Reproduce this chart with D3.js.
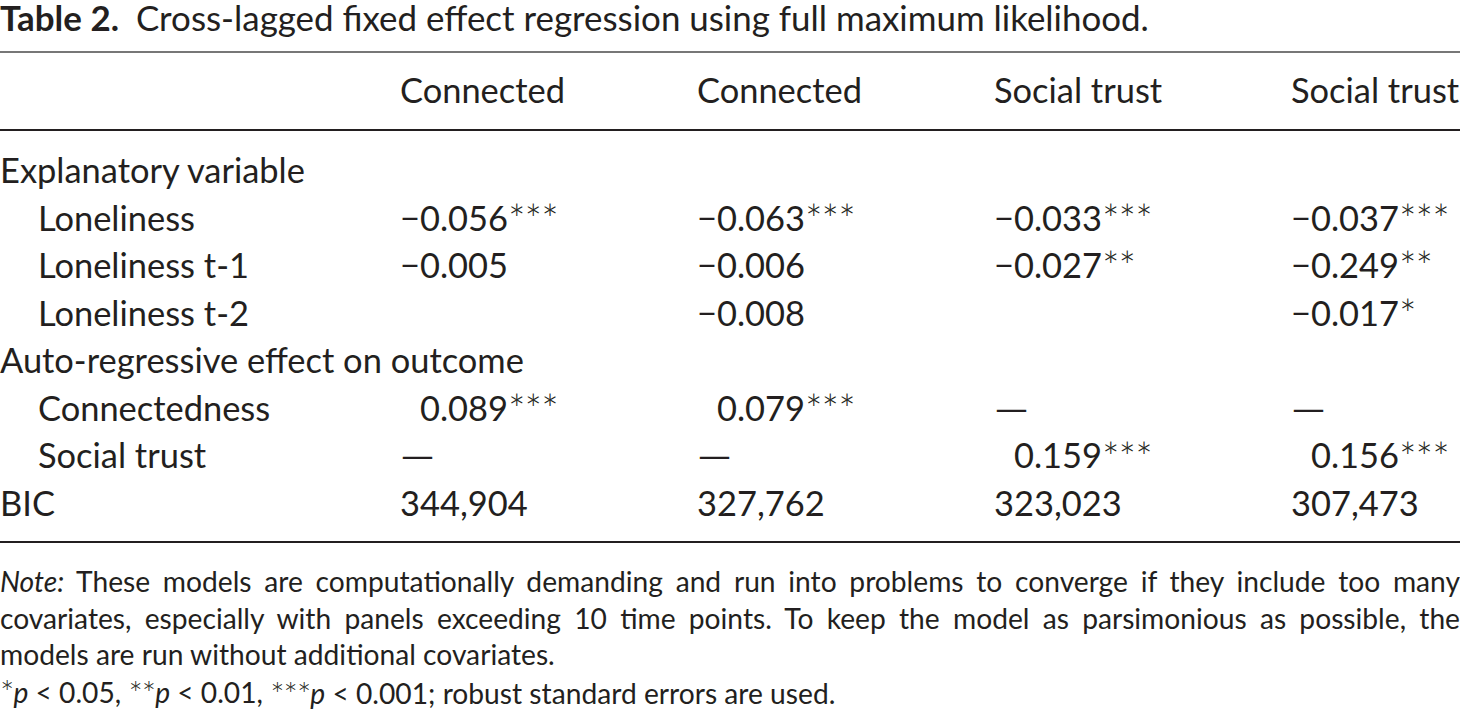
<!DOCTYPE html>
<html>
<head>
<meta charset="utf-8">
<script src="https://cdn.jsdelivr.net/npm/d3@7"></script>
<style>
  html, body { margin: 0; padding: 0; background: #fff; }
  svg { display: block; font-family: Lato, "Open Sans", sans-serif; }
</style>
</head>
<body>
<svg id="chart"></svg>
<script>
// ---- table content ----
const tableNumber = "Table 2.";
const tableTitle = "Cross-lagged fixed effect regression using full maximum likelihood.";
const models = ["Connected", "Connected", "Social trust", "Social trust"];

// sections of the table, each with its own rows
const explanatoryRows = ["Loneliness", "Loneliness t-1", "Loneliness t-2"];
const autoRegRows = ["Connectedness", "Social trust"];

// coefficients per model (null = not in model, "—" = not applicable)
const loneliness      = [-0.056, -0.063, -0.033, -0.037];
const lonelinessStars = [3, 3, 3, 3];
const lonelinessT1      = [-0.005, -0.006, -0.027, -0.249];
const lonelinessT1Stars = [0, 0, 2, 2];
const lonelinessT2      = [null, -0.008, null, -0.017];
const lonelinessT2Stars = [0, 0, 0, 1];
const connectedness      = [0.089, 0.079, "—", "—"];
const connectednessStars = [3, 3, 0, 0];
const socialTrust      = ["—", "—", 0.159, 0.156];
const socialTrustStars = [0, 0, 3, 3];
const bic = [344904, 327762, 323023, 307473];

const noteLines = [
  "These models are computationally demanding and run into problems to converge if they include too many",
  "covariates, especially with panels exceeding 10 time points. To keep the model as parsimonious as possible, the",
  "models are run without additional covariates."
];
const sigLevels = [["*", "0.05"], ["**", "0.01"], ["***", "0.001"]];
const sigTail = "; robust standard errors are used.";

// ---- drawing ----
const width = 1460;
const height = 717;
const ink = "#231f20";

const svg = d3.select("#chart")
    .attr("width", width)
    .attr("height", height);

function measure(str, size, weight, style) {
  const t = svg.append("text")
      .attr("font-size", size)
      .attr("font-weight", weight || 400)
      .attr("font-style", style || "normal")
      .text(str);
  const w = t.node().getComputedTextLength();
  t.remove();
  return w;
}

const bodySize = 100 * 305 / measure("Explanatory variable", 100);
const titleSize = 100 * 1132 / (measure(tableNumber, 100, 700) + measure(" " + tableTitle, 100));
const noteSize = 100 * 555 / measure(noteLines[2], 100);
const minusWidth = measure("\u2212", bodySize);

// title
const title = svg.append("text")
    .attr("x", 0)
    .attr("y", 31)
    .attr("font-size", titleSize)
    .attr("fill", ink);
title.append("tspan").attr("font-weight", 700).text(tableNumber);
title.append("tspan").attr("dx", 8).text(" " + tableTitle);

// rules
[[52, 1.6, "#4a4a4a"], [130, 2, ink], [542, 2.2, ink]].forEach(([y, w, c]) => {
  svg.append("line")
      .attr("x1", 0).attr("x2", width)
      .attr("y1", y).attr("y2", y)
      .attr("stroke", c)
      .attr("stroke-width", w);
});

// body layout
const rows = [
  { label: "Explanatory variable", section: true },
  { label: explanatoryRows[0], values: loneliness, stars: lonelinessStars },
  { label: explanatoryRows[1], values: lonelinessT1, stars: lonelinessT1Stars },
  { label: explanatoryRows[2], values: lonelinessT2, stars: lonelinessT2Stars },
  { label: "Auto-regressive effect on outcome", section: true },
  { label: autoRegRows[0], values: connectedness, stars: connectednessStars },
  { label: autoRegRows[1], values: socialTrust, stars: socialTrustStars },
  { label: "BIC", values: bic, stars: [0, 0, 0, 0], count: true }
];

const x = d3.scalePoint()
    .domain(d3.range(models.length))
    .range([400, 1291]);

const y = d3.scalePoint()
    .domain(d3.range(rows.length))
    .range([183, 516]);

const fmtCoef = d3.format(".3f");
const fmtCount = d3.format(",");

// header
svg.selectAll(".head")
  .data(models)
  .join("text")
    .attr("class", "head")
    .attr("x", (d, i) => x(i))
    .attr("y", 103)
    .attr("font-size", bodySize)
    .attr("fill", ink)
    .text(d => d);

// row labels
svg.selectAll(".label")
  .data(rows)
  .join("text")
    .attr("class", "label")
    .attr("x", d => (d.section || d.count) ? 0 : 38)
    .attr("y", (d, i) => y(i))
    .attr("font-size", bodySize)
    .attr("fill", ink)
    .text(d => d.label);

// cells
const cells = [];
rows.forEach((r, ri) => {
  if (!r.values) return;
  r.values.forEach((v, ci) => {
    if (v === null) return;
    cells.push({ row: ri, col: ci, v, stars: r.stars[ci], count: r.count });
  });
});

const cell = svg.selectAll(".cell")
  .data(cells)
  .join("text")
    .attr("class", "cell")
    .attr("x", d => x(d.col) + ((typeof d.v === "number" && d.v >= 0 && !d.count) ? minusWidth : 0))
    .attr("y", d => y(d.row))
    .attr("font-size", bodySize)
    .attr("fill", ink);

cell.filter(d => typeof d.v !== "number")
    .attr("textLength", 35)
    .attr("lengthAdjust", "spacingAndGlyphs");

cell.append("tspan")
    .text(d => typeof d.v !== "number" ? d.v : d.count ? fmtCount(d.v) : fmtCoef(d.v));

cell.filter(d => d.stars > 0)
  .append("tspan")
    .attr("font-size", "1.2em")
    .attr("font-weight", 300)
    .attr("dy", "0.1em")
    .attr("letter-spacing", -1)
    .text(d => "*".repeat(d.stars));

// notes
const noteY = d3.scalePoint()
    .domain(d3.range(4))
    .range([592, 702]);

function justify(sel) {
  const node = sel.node();
  const natural = node.getComputedTextLength();
  const spaces = (node.textContent.match(/ /g) || []).length;
  sel.attr("word-spacing", (width - natural) / spaces);
}

noteLines.forEach((line, i) => {
  const t = svg.append("text")
      .attr("x", 0)
      .attr("y", noteY(i))
      .attr("font-size", noteSize)
      .attr("fill", ink);
  if (i === 0) {
    t.append("tspan").attr("font-style", "italic").text("Note:");
    t.append("tspan").text(" " + line);
  } else {
    t.append("tspan").text(line);
  }
  if (i < 2) justify(t);
});

const sig = svg.append("text")
    .attr("x", 0)
    .attr("y", noteY(3))
    .attr("font-size", noteSize)
    .attr("fill", ink);
sigLevels.forEach(([s, p], i) => {
  if (i) sig.append("tspan").text(", ");
  sig.append("tspan")
      .attr("font-size", "1.2em")
      .attr("font-weight", 300)
      .attr("dy", "0.1em")
      .attr("letter-spacing", -1)
      .text(s);
  sig.append("tspan")
      .attr("font-style", "italic")
      .attr("dy", "-0.1em")
      .text("p");
  sig.append("tspan").text(" < " + p);
});
sig.append("tspan").text(sigTail);
</script>
</body>
</html>
